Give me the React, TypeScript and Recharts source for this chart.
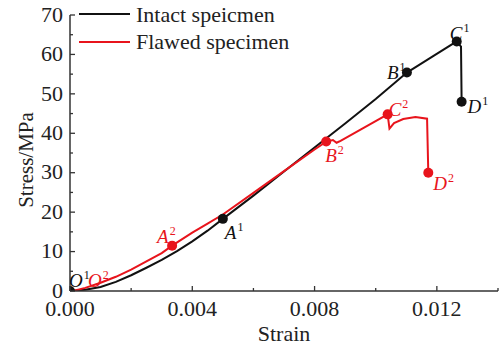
import { ComposedChart, Line, Scatter, XAxis, YAxis, Label } from 'recharts'

// intact specimen curve
const INTACT_STRAIN = [0, 0.0005, 0.001, 0.0015, 0.002, 0.0025, 0.003, 0.0035, 0.004, 0.0045, 0.005, 0.006, 0.007, 0.008, 0.009, 0.01, 0.01102, 0.0118, 0.01265, 0.01279, 0.01281]
const INTACT_STRESS = [0, 0.3, 1.0, 2.3, 4.0, 5.9, 7.9, 10.1, 12.6, 15.3, 18.3, 24.2, 30.3, 36.4, 42.5, 48.7, 55.4, 59.2, 63.3, 62.0, 48.0]

// flawed specimen curve
const FLAWED_STRAIN = [0.0001, 0.0005, 0.001, 0.0015, 0.002, 0.0025, 0.003, 0.00334, 0.004, 0.0045, 0.005, 0.006, 0.007, 0.008, 0.00838, 0.0086, 0.00872, 0.00885, 0.01039, 0.01045, 0.0106, 0.0109, 0.0113, 0.01168, 0.01172]
const FLAWED_STRESS = [0, 0.8, 2.1, 3.6, 5.4, 7.5, 9.6, 11.5, 14.8, 17.1, 19.4, 24.9, 30.4, 35.9, 37.9, 38.3, 37.6, 38.1, 44.8, 41.2, 42.6, 43.6, 44.1, 43.7, 30.0]

// characteristic points
const KEY_NAMES = ['O', 'A', 'B', 'C', 'D']
const INTACT_KEY_STRAIN = [0, 0.005, 0.01102, 0.01265, 0.01281]
const INTACT_KEY_STRESS = [0, 18.3, 55.4, 63.3, 48.0]
const FLAWED_KEY_STRAIN = [0.0001, 0.00334, 0.00838, 0.01039, 0.01172]
const FLAWED_KEY_STRESS = [0, 11.5, 37.9, 44.8, 30.0]

const X_MAJOR = [0, 0.004, 0.008, 0.012]
const X_MINOR = [0.002, 0.006, 0.01, 0.014]
const Y_MAJOR = [0, 10, 20, 30, 40, 50, 60, 70]
const Y_MINOR = [5, 15, 25, 35, 45, 55, 65]

const BLACK = '#111111'
const RED = '#e8141c'
const AXIS = '#333333'
const FONT = '"Liberation Serif", "Times New Roman", serif'

// label placement relative to the dot: [dx, baseline dy]
const LABEL_POS: Record<string, [number, number]> = {
  O1: [-1, -4],
  A1: [2, 20],
  B1: [-20, 6],
  C1: [-7, -1],
  D1: [6, 11],
  O2: [15, -4],
  A2: [-15, -3],
  B2: [-1, 20],
  C2: [1, 2],
  D2: [5, 17],
}

const intactData = INTACT_STRAIN.map((x, i) => ({ x, y: INTACT_STRESS[i] }))
const flawedData = FLAWED_STRAIN.map((x, i) => ({ x, y: FLAWED_STRESS[i] }))
const intactKeys = KEY_NAMES.map((name, i) => ({ x: INTACT_KEY_STRAIN[i], y: INTACT_KEY_STRESS[i], name, sup: '1' }))
const flawedKeys = KEY_NAMES.map((name, i) => ({ x: FLAWED_KEY_STRAIN[i], y: FLAWED_KEY_STRESS[i], name, sup: '2' }))

const xTicks = [...X_MAJOR, ...X_MINOR].sort((a, b) => a - b)
const yTicks = [...Y_MAJOR, ...Y_MINOR].sort((a, b) => a - b)

const XTick = (props: any) => {
  const { x, y, payload } = props
  const major = X_MAJOR.includes(payload.value)
  return (
    <g>
      <line x1={x} x2={x} y1={y} y2={y - (major ? 5 : 3)} stroke={AXIS} strokeWidth={1.3} />
      {major && (
        <text x={x} y={y + 25} textAnchor="middle" fontSize={22} fontFamily={FONT} fill="#222">
          {payload.value.toFixed(3)}
        </text>
      )}
    </g>
  )
}

const YTick = (props: any) => {
  const { x, y, payload } = props
  const major = Y_MAJOR.includes(payload.value)
  return (
    <g>
      <line x1={x} x2={x + (major ? 5 : 3)} y1={y} y2={y} stroke={AXIS} strokeWidth={1.3} />
      {major && (
        <text x={x - 7} y={y + 6.7} textAnchor="end" fontSize={22} fontFamily={FONT} fill="#222">
          {payload.value}
        </text>
      )}
    </g>
  )
}

const makeShape = (color: string) => (props: any) => {
  const { cx, cy, payload } = props
  const key = payload.name + payload.sup
  const [dx, dy] = LABEL_POS[key]
  const hideDot = key === 'O2'
  return (
    <g>
      {!hideDot && <circle cx={cx} cy={cy} r={5} fill={color} />}
      <text x={cx + dx} y={cy + dy} fill={color} fontFamily={FONT} fontSize={19} fontStyle="italic">
        {payload.name}
        <tspan fontSize={12} fontStyle="normal" dx={1} dy={-8}>{payload.sup}</tspan>
      </text>
    </g>
  )
}

const YLabel = () => (
  <text x={33} y={160} transform="rotate(-90 33 160)" textAnchor="middle" fontSize={21} fontFamily={FONT} fill="#222">
    Stress/MPa
  </text>
)

export default function App() {
  return (
    <div style={{ position: 'absolute', left: 0, top: 0, width: 500, height: 347, background: '#fff' }}>
      <ComposedChart width={500} height={347} margin={{ top: 15, right: 2, left: 0, bottom: 0 }}>
        <XAxis
          type="number"
          dataKey="x"
          domain={[0, 0.014]}
          ticks={xTicks}
          interval={0}
          tick={<XTick />}
          tickLine={false}
          tickSize={0}
          tickMargin={0}
          axisLine={{ stroke: AXIS, strokeWidth: 1.5 }}
          height={56}
          allowDataOverflow
        >
          <Label value="Strain" position="insideBottom" offset={6} fontSize={22} fontFamily={FONT} fill="#222" />
        </XAxis>
        <YAxis
          type="number"
          domain={[0, 70]}
          ticks={yTicks}
          interval={0}
          tick={<YTick />}
          tickLine={false}
          tickSize={0}
          tickMargin={0}
          axisLine={{ stroke: AXIS, strokeWidth: 1.5 }}
          width={70}
          allowDataOverflow
        >
          <Label content={<YLabel />} />
        </YAxis>
        <Line data={intactData} dataKey="y" type="linear" stroke={BLACK} strokeWidth={2} dot={false} isAnimationActive={false} />
        <Line data={flawedData} dataKey="y" type="linear" stroke={RED} strokeWidth={2} dot={false} isAnimationActive={false} />
        <Scatter data={intactKeys} dataKey="y" shape={makeShape(BLACK)} isAnimationActive={false} />
        <Scatter data={flawedKeys} dataKey="y" shape={makeShape(RED)} isAnimationActive={false} />
      </ComposedChart>
      <svg width={320} height={60} style={{ position: 'absolute', left: 0, top: 0, pointerEvents: 'none' }}>
        <line x1={79} x2={130} y1={14} y2={14} stroke={BLACK} strokeWidth={2} />
        <text x={136} y={22} fontSize={22} fontFamily={FONT} fill="#222">Intact speicmen</text>
        <line x1={79} x2={130} y1={42} y2={42} stroke={RED} strokeWidth={2} />
        <text x={136} y={49} fontSize={22} fontFamily={FONT} fill="#222">Flawed specimen</text>
      </svg>
    </div>
  )
}
